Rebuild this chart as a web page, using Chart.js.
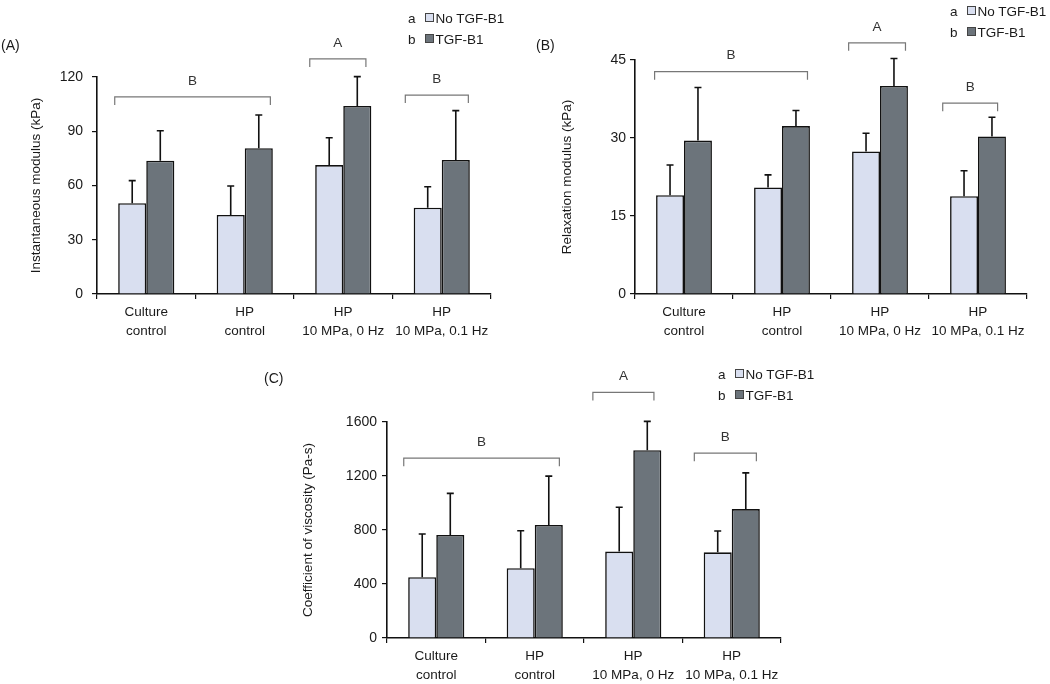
<!DOCTYPE html>
<html><head><meta charset="utf-8">
<script src="https://cdn.jsdelivr.net/npm/chart.js@4.4.1/dist/chart.umd.min.js"></script>
<style>
body{margin:0;background:#fff;width:1050px;height:684px;position:relative;overflow:hidden;font-family:"Liberation Sans",Arial,sans-serif;color:#1a1a1a}
canvas{position:absolute}
.txt{position:absolute;font-size:14px;line-height:16px;white-space:nowrap}
.leg{position:absolute;font-size:13.5px;line-height:16px;white-space:nowrap}
.sw{display:inline-block;width:7px;height:7px;border:1px solid #444;margin:0 2px 0 9px;vertical-align:1px}
</style></head><body>
<script>
// ---------- data ----------
const categories = [["Culture","control"],["HP","control"],["HP","10 MPa, 0 Hz"],["HP","10 MPa, 0.1 Hz"]];
const seriesNames = ["No TGF-B1","TGF-B1"];
const seriesKeys = ["a","b"];

// (A) Instantaneous modulus (kPa)
const instNoTGF   = [50.2, 43.7, 71.3, 47.7];
const instNoTGFsd = [12.5, 16.0, 15.1, 11.6];
const instTGF     = [73.7, 80.6, 104.0, 74.1];
const instTGFsd   = [16.6, 18.4, 16.2, 27.3];
const instTicks   = [0, 30, 60, 90, 120];
const instGroups  = [{from:-0.32,to:1.26,y:109,label:"B"},{from:1.66,to:2.23,y:130,label:"A"},{from:2.63,to:3.27,y:110,label:"B"}];

// (B) Relaxation modulus (kPa)
const relaxNoTGF   = [19.0, 20.5, 27.4, 18.8];
const relaxNoTGFsd = [5.8, 2.4, 3.5, 4.9];
const relaxTGF     = [29.5, 32.3, 40.0, 30.3];
const relaxTGFsd   = [10.2, 3.0, 5.3, 3.7];
const relaxTicks   = [0, 15, 30, 45];
const relaxGroups  = [{from:-0.30,to:1.26,y:42.75,label:"B"},{from:1.68,to:2.26,y:48.3,label:"A"},{from:2.64,to:3.20,y:36.7,label:"B"}];

// (C) Coefficient of viscosity (Pa-s)
const viscNoTGF   = [450, 517, 640, 635];
const viscNoTGFsd = [320, 278, 328, 158];
const viscTGF     = [763, 837, 1391, 955];
const viscTGFsd   = [308, 362, 214, 268];
const viscTicks   = [0, 400, 800, 1200, 1600];
const viscGroups  = [{from:-0.33,to:1.25,y:1332,label:"B"},{from:1.59,to:2.21,y:1819,label:"A"},{from:2.62,to:3.25,y:1369,label:"B"}];

// ---------- styling ----------
const LIGHT = '#d9dff0', DARK = '#6c747b';
const FONT = '"Liberation Sans", Arial, sans-serif';
const INK = '#1a1a1a';

function addText(html, left, top, cls){
  const d=document.createElement('div'); d.className=cls||'txt'; d.innerHTML=html;
  d.style.left=left+'px'; d.style.top=top+'px'; document.body.appendChild(d); return d;
}

function panel(cfg){
  const c=document.createElement('canvas');
  c.width=cfg.w; c.height=cfg.h; c.style.left=cfg.left+'px'; c.style.top=cfg.top+'px';
  c.style.width=cfg.w+'px'; c.style.height=cfg.h+'px';
  document.body.appendChild(c);
  const groups=cfg.groups;
  const plug={
    id:'errAndGroups',
    afterDatasetsDraw(chart){
      const ctx=chart.ctx, ys=chart.scales.y, xs=chart.scales.x;
      ctx.save();
      chart.data.datasets.forEach((ds,i)=>{
        chart.getDatasetMeta(i).data.forEach((bar,j)=>{
          const top=ys.getPixelForValue(ds.data[j]+ds.sd[j]);
          ctx.strokeStyle='#111'; ctx.lineWidth=1.6;
          ctx.beginPath();
          ctx.moveTo(bar.x,bar.y); ctx.lineTo(bar.x,top);
          ctx.moveTo(bar.x-3.5,top); ctx.lineTo(bar.x+3.5,top);
          ctx.stroke();
        });
      });
      groups.forEach(g=>{
        const x1=xs.getPixelForValue(g.from), x2=xs.getPixelForValue(g.to), y=ys.getPixelForValue(g.y);
        ctx.strokeStyle='#777'; ctx.lineWidth=1.2;
        ctx.beginPath(); ctx.moveTo(x1,y+8); ctx.lineTo(x1,y); ctx.lineTo(x2,y); ctx.lineTo(x2,y+8); ctx.stroke();
        ctx.fillStyle='#333'; ctx.font='13.5px '+FONT; ctx.textAlign='center'; ctx.textBaseline='middle';
        ctx.fillText(g.label,(x1+x2)/2,y-16);
      });
      ctx.restore();
    }
  };
  new Chart(c,{
    type:'bar',
    data:{labels:categories,datasets:[
      {label:seriesNames[0],data:cfg.d0,sd:cfg.s0,backgroundColor:LIGHT,borderColor:'#111',borderWidth:1.6,borderSkipped:'bottom'},
      {label:seriesNames[1],data:cfg.d1,sd:cfg.s1,backgroundColor:DARK,borderColor:'#111',borderWidth:1.6,borderSkipped:'bottom'}
    ]},
    options:{
      responsive:false,animation:false,devicePixelRatio:1,
      categoryPercentage:0.57,barPercentage:1.0,
      layout:{padding:{left:0,top:cfg.padTop,right:cfg.padRight,bottom:0}},
      plugins:{legend:{display:false},tooltip:{enabled:false}},
      scales:{
        x:{type:'category',offset:true,
           grid:{offset:true,drawOnChartArea:false,drawTicks:true,tickLength:5,color:'#111',lineWidth:1.2},
           border:{display:true,color:'#111',width:1.6},
           ticks:{font:{family:FONT,size:13.5,lineHeight:1.45},color:INK,padding:3,maxRotation:0,autoSkip:false},
           afterFit(s){s.height=cfg.xH;}},
        y:{min:cfg.ticks[0],max:cfg.ticks[cfg.ticks.length-1],
           afterBuildTicks(s){s.ticks=cfg.ticks.map(v=>({value:v}));},
           grid:{drawOnChartArea:false,drawTicks:true,tickLength:5,color:'#111',lineWidth:1.2},
           border:{display:true,color:'#111',width:1.6},
           ticks:{font:{family:FONT,size:14},color:INK,padding:cfg.tickPad,callback:(v)=>String(v)},
           title:{display:true,text:cfg.title,font:{family:FONT,size:13.5},color:INK,padding:{top:cfg.titlePad,bottom:0}},
           afterFit(s){s.width=cfg.yW;}}
      }
    },
    plugins:[plug]
  });
  addText(cfg.tag,cfg.tagX,cfg.tagY,'txt');
  seriesNames.forEach((n,i)=>{
    addText(seriesKeys[i]+'<span class="sw" style="background:'+(i?DARK:LIGHT)+'"></span>'+n, cfg.legX, cfg.legY+i*21,'leg');
  });
}

panel({left:0,top:0,w:520,h:345,padTop:77,padRight:29,xH:51,yW:97,tickPad:9,titlePad:28,
  d0:instNoTGF,s0:instNoTGFsd,d1:instTGF,s1:instTGFsd,ticks:instTicks,groups:instGroups,
  title:'Instantaneous modulus (kPa)',tag:'(A)',tagX:1,tagY:37,legX:408,legY:11});
panel({left:520,top:0,w:530,h:345,padTop:60,padRight:23,xH:51,yW:115,tickPad:4,titlePad:39,
  d0:relaxNoTGF,s0:relaxNoTGFsd,d1:relaxTGF,s1:relaxTGFsd,ticks:relaxTicks,groups:relaxGroups,
  title:'Relaxation modulus (kPa)',tag:'(B)',tagX:536,tagY:37,legX:950,legY:4});
panel({left:230,top:355,w:580,h:329,padTop:67,padRight:29,xH:46,yW:157,tickPad:5,titlePad:70,
  d0:viscNoTGF,s0:viscNoTGFsd,d1:viscTGF,s1:viscTGFsd,ticks:viscTicks,groups:viscGroups,
  title:'Coefficient of viscosity (Pa-s)',tag:'(C)',tagX:264,tagY:370,legX:718,legY:367});
</script>
</body></html>
